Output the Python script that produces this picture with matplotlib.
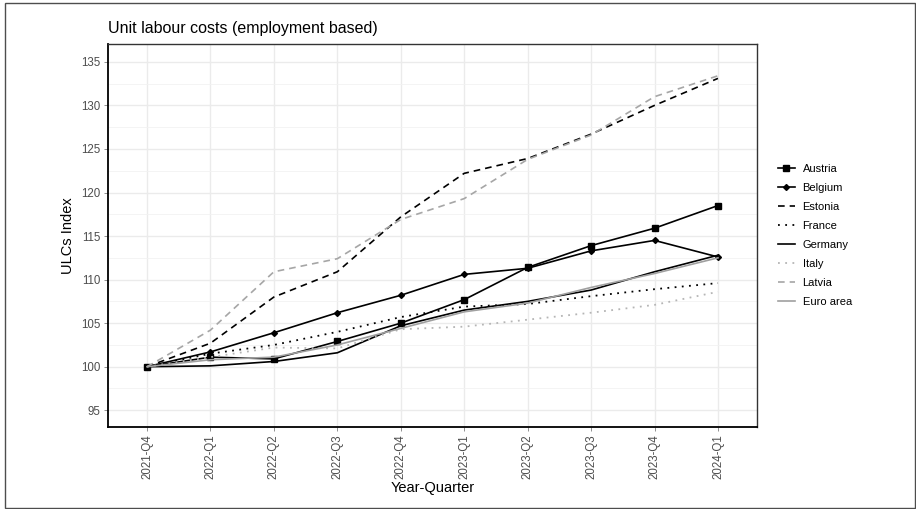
import matplotlib.pyplot as plt
from matplotlib.patches import Rectangle
from matplotlib.ticker import MultipleLocator

plt.rcParams['font.family'] = ['Liberation Sans', 'DejaVu Sans']

# ---------------------------
# Data
# ---------------------------
quarters = ['2021-Q4', '2022-Q1', '2022-Q2', '2022-Q3', '2022-Q4',
            '2023-Q1', '2023-Q2', '2023-Q3', '2023-Q4', '2024-Q1']

austria   = [100, 101.1, 100.9, 102.9, 105.0, 107.7, 111.4, 113.9, 115.9, 118.5]
belgium   = [100, 101.7, 103.9, 106.2, 108.2, 110.6, 111.3, 113.3, 114.5, 112.6]
estonia   = [100, 102.7, 108.0, 110.9, 117.2, 122.2, 123.9, 126.7, 130.0, 133.1]
france    = [100, 101.5, 102.5, 104.0, 105.7, 106.9, 107.2, 108.1, 108.9, 109.6]
germany   = [100, 100.1, 100.6, 101.6, 104.7, 106.5, 107.5, 108.8, 110.9, 112.8]
italy     = [100, 101.1, 102.2, 102.1, 104.3, 104.6, 105.4, 106.2, 107.1, 108.6]
latvia    = [100, 104.2, 110.9, 112.4, 116.9, 119.3, 123.8, 126.6, 131.0, 133.4]
euro_area = [100, 100.8, 101.1, 102.5, 104.4, 106.3, 107.3, 109.1, 110.7, 112.5]

x = list(range(len(quarters)))

# ---------------------------
# Figure
# ---------------------------
fig = plt.figure(figsize=(9.16, 5.09), dpi=100)
ax = fig.add_axes([0.1179, 0.1611, 0.7085, 0.7525])

ax.plot(x, austria, color='black', lw=1.2, marker='s', markersize=5, label='Austria')
ax.plot(x, belgium, color='black', lw=1.2, marker='D', markersize=3, label='Belgium')
ax.plot(x, estonia, color='black', lw=1.2, linestyle=(0, (4, 3)), label='Estonia')
ax.plot(x, france, color='black', lw=1.3, linestyle=(0, (1, 3)), label='France')
ax.plot(x, germany, color='black', lw=1.2, label='Germany')
ax.plot(x, italy, color='#b5b5b5', lw=1.3, linestyle=(0, (1, 3)), label='Italy')
ax.plot(x, latvia, color='#a6a6a6', lw=1.2, linestyle=(0, (4, 3)), label='Latvia')
ax.plot(x, euro_area, color='#a0a0a0', lw=1.2, label='Euro area')

ax.set_xlim(-0.615, 9.615)
ax.set_ylim(93.08, 137.05)
ax.set_xticks(x)
ax.set_xticklabels(quarters, rotation=90, fontsize=8.3, color='#4d4d4d')
ax.yaxis.set_major_locator(MultipleLocator(5))
ax.yaxis.set_minor_locator(MultipleLocator(2.5))
ax.tick_params(axis='y', labelsize=8.3, labelcolor='#4d4d4d')
ax.tick_params(which='major', length=3, color='#7f7f7f', width=0.6, pad=2.5)
ax.tick_params(which='minor', length=0)

ax.grid(which='major', color='#ebebeb', lw=1.0)
ax.grid(which='minor', axis='y', color='#f2f2f2', lw=0.6)
ax.set_axisbelow(True)

for side in ['top', 'right']:
    ax.spines[side].set_color('#333333')
    ax.spines[side].set_linewidth(1.0)
for side in ['left', 'bottom']:
    ax.spines[side].set_color('black')
    ax.spines[side].set_linewidth(1.3)

ax.set_title('Unit labour costs (employment based)', loc='left', fontsize=11.5, pad=8)
ax.set_ylabel('ULCs Index', fontsize=10.5)
ax.set_xlabel('Year-Quarter', fontsize=10.5, labelpad=1)

ax.legend(loc='center left', bbox_to_anchor=(1.0, 0.5), frameon=False,
          fontsize=8, handlelength=1.5, handletextpad=0.7,
          labelspacing=0.8, borderpad=0.4, borderaxespad=1.5)

# outer frame
fig.patches.append(Rectangle((5 / 916, 1 / 509), 910 / 916, 505 / 509,
                             transform=fig.transFigure, fill=False,
                             edgecolor='#4d4d4d', lw=1.0))

fig.savefig('out.png', dpi=100)
